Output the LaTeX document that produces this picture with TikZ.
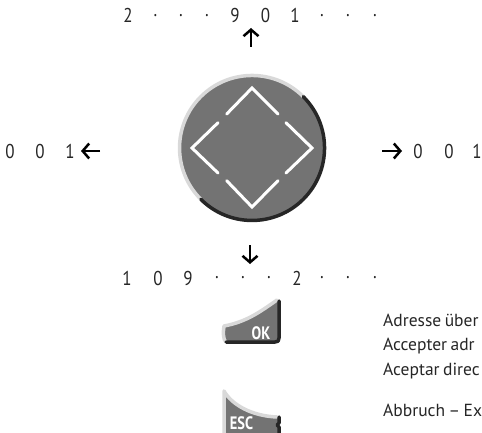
\documentclass[tikz,border=0pt]{standalone}
\usepackage{fontspec}
\setmainfont{PT Sans}
\usetikzlibrary{arrows.meta}
\definecolor{keygrey}{gray}{0.45}
\definecolor{rimlight}{gray}{0.85}
\definecolor{rimdark}{gray}{0.15}
\newcommand{\txfont}{\fontsize{17.5}{20}\selectfont\spaceskip=.2em\relax}
\tikzset{dg/.style = {inner sep=0pt, font=\fontsize{20}{22}\selectfont, text=black!85, xscale=.85, transform shape},
           tx/.style = {inner sep=0pt, anchor=base west, font=\txfont, text=black!85},
           kl/.style = {inner sep=0pt, text=white, font=\fontsize{18}{20}\selectfont\bfseries, xscale=.8, transform shape},
           ar/.style = {-{Straight Barb[length=6.5pt,width=15pt]}, line width=2.5pt},
           dm/.style = {white, line width=3pt, line cap=round, line join=miter},
           li/.style = {rimlight, line width=3.5pt, line cap=round, line join=round},
           da/.style = {rimdark, line width=3.5pt, line cap=round, line join=round}}
\begin{document}
\begin{tikzpicture}[x=1pt, y=-1pt, >=stealth]
    \useasboundingbox (0,0) rectangle (482,433);
    % wheel
    \fill[keygrey] (252,148) circle[radius=72];
    \draw[li] (303.3,96.7) arc[start angle=-45, delta angle=-180, radius=72.5];
    \draw[da] (303.3,96.7) arc[start angle=-45, delta angle=180, radius=72.5];
    \draw[dm] (226.7,114) -- (252,88) -- (278,114);
    \draw[dm] (218,122.7) -- (192,148) -- (218,173);
    \draw[dm] (226.7,180.7) -- (252,207) -- (278,180.7);
    \draw[dm] (286,122.7) -- (312,148) -- (286,173);
    % top row
    \node[dg] (t1) at (128,15.5) {2};  \node[dg] (t2) at (155.5,15.5) {.}; \node[dg] (t3) at (181,15.5) {.};
    \node[dg] (t4) at (207,15.5) {.};  \node[dg] (t5) at (235,15.5) {9};   \node[dg] (t6) at (265.5,15.5) {0};
    \node[dg] (t7) at (295,15.5) {1};  \node[dg] (t8) at (322,15.5) {.};   \node[dg] (t9) at (348,15.5) {.};
    \node[dg] (t10) at (375,15.5) {.};
    % left and right
    \node[dg] (l1) at (10,151.5) {0}; \node[dg] (l2) at (40,151.5) {0}; \node[dg] (l3) at (70,151.5) {1};
    \node[dg] (r1) at (418,151.5) {0}; \node[dg] (r2) at (449,151.5) {0}; \node[dg] (r3) at (477,151.5) {1};
    % bottom row
    \node[dg] (b1) at (127,278) {1};  \node[dg] (b2) at (158,278) {0}; \node[dg] (b3) at (188,278) {9};
    \node[dg] (b4) at (217,278) {.};  \node[dg] (b5) at (243,278) {.}; \node[dg] (b6) at (269,278) {.};
    \node[dg] (b7) at (297,278) {2};  \node[dg] (b8) at (322,278) {.}; \node[dg] (b9) at (348,278) {.};
    \node[dg] (b10) at (375,278) {.};
    % arrows
    \coordinate (ua) at (251,47); \coordinate (ub) at (251,28);
    \coordinate (la) at (100,151); \coordinate (lb) at (81,151);
    \coordinate (ra) at (382,151); \coordinate (rb) at (402,151);
    \coordinate (da) at (250,245); \coordinate (db) at (250,264);
    \draw[ar] (ua) -- (ub);
    \draw[ar] (la) -- (lb);
    \draw[ar] (ra) -- (rb);
    \draw[ar] (da) -- (db);
    % OK key
    \fill[keygrey] (224,342) -- (224,327) .. controls (246,322) and (262,312) .. (278,300) -- (279,342) -- cycle;
    \draw[li] (226,342) .. controls (223,340) and (223,332) .. (224,326) .. controls (246,322) and (260,312) .. (277,300);
    \draw[da] (279,301) -- (279,338) .. controls (279,341) and (278,342) .. (275,342) -- (226,342);
    \node[kl] (ok) at (261,333.5) {OK};
    % ESC key
    \fill[keygrey] (224,391) .. controls (232,405) and (252,416) .. (278,417) -- (278,433) -- (224,433) -- cycle;
    \draw[li] (224,433) -- (224,391) .. controls (232,405) and (252,416) .. (277,417);
    \draw[da] (279,417) -- (279,423) -- (277,425) -- (279,427) -- (279,433);
    \node[kl] (esc) at (241.5,423) {ESC};
    % texts
    \node[tx] (d1) at (383,326.7) {Adresse über};
    \node[tx] (d2) at (383,350.7) {Accepter adr};
    \node[tx] (d3) at (383,375) {Aceptar direc};
    \node[tx] (d4) at (383,416.7) {Abbruch – Ex};
\end{tikzpicture}
\end{document}
